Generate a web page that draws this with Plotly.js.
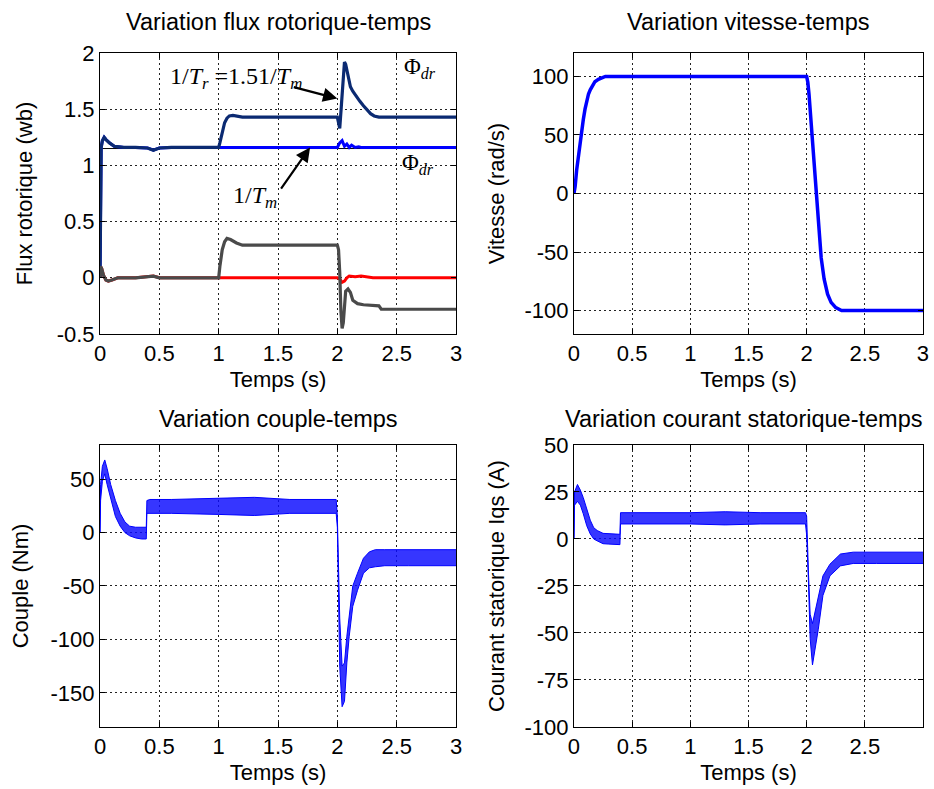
<!DOCTYPE html>
<html>
<head>
<meta charset="utf-8">
<script src="https://cdn.plot.ly/plotly-3.0.1.min.js"></script>
<style>html,body{margin:0;padding:0;background:#fff;}#chart{width:934px;height:789px;}</style>
</head>
<body>
<div id="chart"></div>
<script>
// ---------- Data ----------
// Top-left: rotor flux (wb)
const tFluxRef = [0, 3];
const fluxRef = [1.15, 1.15];                       // thin black 1/Tm reference
const tPhiDrTm = [0, 0.005, 0.01, 0.02, 0.035, 0.05, 0.08, 0.12, 0.2, 0.3, 0.4, 0.45, 0.5, 0.6, 2.0, 2.02, 2.04, 2.06, 2.08, 2.1, 2.12, 2.15, 2.18, 2.2, 3.0];
const phiDrTm = [0, 1.05, 1.16, 1.22, 1.25, 1.23, 1.2, 1.17, 1.16, 1.16, 1.155, 1.135, 1.155, 1.16, 1.16, 1.2, 1.22, 1.17, 1.19, 1.16, 1.18, 1.16, 1.165, 1.16, 1.16];
const tPhiQrTm = [0, 0.005, 0.015, 0.03, 0.05, 0.07, 0.1, 0.15, 0.3, 0.42, 0.45, 0.5, 2.0, 2.02, 2.04, 2.06, 2.08, 2.1, 2.15, 2.2, 2.25, 2.3, 3.0];
const phiQrTm = [0, 0.1, 0.08, 0.02, -0.02, -0.03, -0.02, 0, 0, 0.01, 0.015, 0, 0, -0.01, -0.04, -0.03, 0.0, 0.015, 0.01, 0.015, 0.01, 0, 0];
const tPhiDr15 = [0, 0.005, 0.01, 0.02, 0.035, 0.05, 0.08, 0.12, 0.2, 0.3, 0.4, 0.45, 0.5, 0.6, 1.0, 1.01, 1.03, 1.05, 1.07, 1.09, 1.12, 1.2, 1.5, 1.75, 1.8, 1.9, 2.0, 2.01, 2.02, 2.035, 2.05, 2.06, 2.07, 2.08, 2.09, 2.11, 2.13, 2.16, 2.19, 2.22, 2.25, 2.28, 2.31, 2.35, 2.6, 3.0];
const phiDr15 = [0, 1.05, 1.16, 1.22, 1.25, 1.23, 1.2, 1.17, 1.16, 1.16, 1.155, 1.135, 1.155, 1.16, 1.16, 1.2, 1.3, 1.38, 1.42, 1.44, 1.445, 1.43, 1.43, 1.425, 1.43, 1.43, 1.43, 1.38, 1.33, 1.55, 1.85, 1.92, 1.9, 1.85, 1.78, 1.70, 1.66, 1.61, 1.57, 1.53, 1.49, 1.46, 1.44, 1.43, 1.43, 1.43];
const tPhiQr15 = [0, 0.005, 0.015, 0.03, 0.05, 0.07, 0.1, 0.15, 0.3, 0.42, 0.45, 0.5, 1.0, 1.01, 1.03, 1.05, 1.07, 1.1, 1.15, 1.2, 1.5, 1.8, 2.0, 2.01, 2.02, 2.03, 2.04, 2.05, 2.06, 2.07, 2.09, 2.11, 2.13, 2.17, 2.22, 2.3, 2.35, 2.37, 2.5, 3.0];
const phiQr15 = [0, 0.1, 0.08, 0.02, -0.02, -0.03, -0.02, 0, 0, 0.01, 0.015, 0, 0, 0.1, 0.25, 0.32, 0.35, 0.34, 0.31, 0.29, 0.29, 0.29, 0.29, 0.25, 0.05, -0.3, -0.45, -0.40, -0.2, -0.12, -0.1, -0.13, -0.2, -0.23, -0.24, -0.25, -0.25, -0.28, -0.28, -0.28];

// Top-right: speed (rad/s)
const tSpeed = [0, 0.01, 0.023, 0.035, 0.052, 0.065, 0.08, 0.095, 0.11, 0.125, 0.14, 0.16, 0.18, 0.21, 0.24, 0.27, 2.0, 2.01, 2.02, 2.035, 2.055, 2.075, 2.09, 2.105, 2.125, 2.15, 2.18, 2.21, 2.25, 2.3, 3.0];
const speed = [0, 6, 20, 30, 41, 52, 63, 72, 80, 85, 88.5, 92.5, 95.5, 97.5, 99, 100, 100, 95, 85, 64, 40, 15, -10, -33, -55, -73, -86, -93, -97.5, -100, -100];

// Bottom-left: torque (Nm), upper / lower envelope of the ripple band
const tTorque = [0, 0.005, 0.02, 0.04, 0.06, 0.09, 0.13, 0.17, 0.21, 0.25, 0.3, 0.35, 0.39, 0.395, 0.42, 0.6, 1.0, 1.3, 1.6, 1.99, 2.0, 2.01, 2.02, 2.04, 2.06, 2.08, 2.1, 2.13, 2.17, 2.22, 2.27, 2.32, 2.4, 2.6, 2.8, 3.0];
const torqueHigh = [0, 45, 62, 68, 60, 45, 30, 18, 10, 6, 5, 5, 5, 30, 31, 31, 32, 33, 31, 31, 15, -30, -80, -125, -122, -97, -79, -50, -38, -24, -18, -16, -16, -16, -16, -16];
const torqueLow = [0, 30, 48, 55, 45, 32, 15, 6, 0, -3, -5, -6, -6, 18, 18, 18, 17, 16, 18, 18, 5, -66, -125, -163, -158, -122, -97, -69, -54, -38, -33, -32, -31, -31, -31, -31];

// Bottom-right: stator current Iqs (A), upper / lower envelope
const tIqs = [0, 0.005, 0.03, 0.055, 0.08, 0.11, 0.14, 0.17, 0.2, 0.25, 0.3, 0.38, 0.395, 0.4, 0.7, 1.0, 1.3, 1.6, 1.99, 2.0, 2.015, 2.03, 2.05, 2.07, 2.1, 2.14, 2.2, 2.29, 2.4, 2.6, 2.8, 3.0];
const iqsHigh = [0, 25, 29, 26, 22, 16, 10, 6, 4.5, 3, 2.7, 2.5, 2.5, 14, 14, 14, 14.5, 14, 14, 12, -17, -40, -45, -39, -30, -19.6, -13.4, -8, -7, -7, -7, -7];
const iqsLow = [0, 18, 20, 18, 13.4, 7, 2.7, 0, -1, -2.5, -2.7, -3, -3, 8, 8, 8, 7.5, 8, 8, 2, -22, -53, -67, -60, -48, -30, -19.6, -14.3, -13, -13, -13, -13];

// Tick values and labels
const timeTicks = [0, 0.5, 1, 1.5, 2, 2.5, 3];
const timeTickText = ['0', '0.5', '1', '1.5', '2', '2.5', '3'];
const timeTicksBR = [0, 0.5, 1, 1.5, 2, 2.5];
const timeTickTextBR = ['0', '0.5', '1', '1.5', '2', '2.5'];
const fluxTicks = [-0.5, 0, 0.5, 1, 1.5, 2];
const fluxTickText = ['-0.5', '0', '0.5', '1', '1.5', '2'];
const speedTicks = [-100, -50, 0, 50, 100];
const speedTickText = ['-100', '-50', '0', '50', '100'];
const torqueTicks = [-150, -100, -50, 0, 50];
const torqueTickText = ['-150', '-100', '-50', '0', '50'];
const iqsTicks = [-100, -75, -50, -25, 0, 25, 50];
const iqsTickText = ['-100', '-75', '-50', '-25', '0', '25', '50'];

// ---------- Traces ----------
const NAVY = '#0b2a72', BLUE = '#0000ff', GRAY = '#4a4a4a', RED = '#ff0000';
const BAND = 'rgba(10,10,255,0.82)';
const traces = [
  {x: tFluxRef, y: fluxRef, xaxis: 'x', yaxis: 'y', mode: 'lines', line: {color: '#000', width: 1}},
  {x: tPhiDrTm, y: phiDrTm, xaxis: 'x', yaxis: 'y', mode: 'lines', line: {color: BLUE, width: 3}},
  {x: tPhiQrTm, y: phiQrTm, xaxis: 'x', yaxis: 'y', mode: 'lines', line: {color: RED, width: 3}},
  {x: tPhiDr15, y: phiDr15, xaxis: 'x', yaxis: 'y', mode: 'lines', line: {color: NAVY, width: 3.2}},
  {x: tPhiQr15, y: phiQr15, xaxis: 'x', yaxis: 'y', mode: 'lines', line: {color: GRAY, width: 3.2}},

  {x: tSpeed, y: speed, xaxis: 'x2', yaxis: 'y2', mode: 'lines', line: {color: BLUE, width: 3.5}},

  {x: tTorque, y: torqueLow, xaxis: 'x3', yaxis: 'y3', mode: 'lines', line: {color: BLUE, width: 1}},
  {x: tTorque, y: torqueHigh, xaxis: 'x3', yaxis: 'y3', mode: 'lines', line: {color: BLUE, width: 1}, fill: 'tonexty', fillcolor: BAND},

  {x: tIqs, y: iqsLow, xaxis: 'x4', yaxis: 'y4', mode: 'lines', line: {color: BLUE, width: 1}},
  {x: tIqs, y: iqsHigh, xaxis: 'x4', yaxis: 'y4', mode: 'lines', line: {color: BLUE, width: 1}, fill: 'tonexty', fillcolor: BAND}
];

// ---------- Layout ----------
const FONT = 'Liberation Sans, Arial, Helvetica, sans-serif';
const SERIF = 'Liberation Serif, Times New Roman, serif';
function axisBase(extra) {
  return Object.assign({
    showline: true, mirror: 'ticks', linecolor: '#000', linewidth: 1,
    ticks: 'inside', ticklen: 5, tickcolor: '#000', tickwidth: 1,
    showgrid: true, gridcolor: '#222', griddash: '2px,3px', gridwidth: 1,
    zeroline: false, tickmode: 'array', tickfont: {family: FONT, size: 22, color: '#000'}
  }, extra);
}
function xTitle(std) { return {text: 'Temps (s)', font: {family: FONT, size: 22, color: '#000'}, standoff: std}; }
function yTitle(t, std) { return {text: t, font: {family: FONT, size: 22, color: '#000'}, standoff: std}; }

const LX = [0, 0.4326], RX = [0.5759, 1], TY = [0.5831, 1], BY = [0, 0.4184];
const TITLE_FONT = {family: FONT, size: 23.5, color: '#000'};

const layout = {
  width: 934, height: 789,
  margin: {l: 100, r: 11, t: 53, b: 62},
  paper_bgcolor: '#fff', plot_bgcolor: '#fff',
  showlegend: false,
  font: {family: FONT, size: 22, color: '#000'},
  xaxis: axisBase({domain: LX, anchor: 'y', range: [0, 3], tickvals: timeTicks, ticktext: timeTickText, title: xTitle(6)}),
  yaxis: axisBase({domain: TY, anchor: 'x', range: [-0.5, 2], tickvals: fluxTicks, ticktext: fluxTickText, title: yTitle('Flux rotorique (wb)', 17)}),
  xaxis2: axisBase({domain: RX, anchor: 'y2', range: [0, 3], tickvals: timeTicks, ticktext: timeTickText, title: xTitle(6)}),
  yaxis2: axisBase({domain: TY, anchor: 'x2', range: [-120, 120], tickvals: speedTicks, ticktext: speedTickText, title: yTitle('Vitesse (rad/s)', 13)}),
  xaxis3: axisBase({domain: LX, anchor: 'y3', range: [0, 3], tickvals: timeTicks, ticktext: timeTickText, title: xTitle(6)}),
  yaxis3: axisBase({domain: BY, anchor: 'x3', range: [-182, 82], tickvals: torqueTicks, ticktext: torqueTickText, title: yTitle('Couple (Nm)', 15)}),
  xaxis4: axisBase({domain: RX, anchor: 'y4', range: [0, 3], tickvals: timeTicksBR, ticktext: timeTickTextBR, title: xTitle(6)}),
  yaxis4: axisBase({domain: BY, anchor: 'x4', range: [-100, 50], tickvals: iqsTicks, ticktext: iqsTickText, title: yTitle('Courant statorique Iqs (A)', 13)}),
  annotations: [
    {text: 'Variation flux rotorique-temps', xref: 'paper', yref: 'paper', x: 0.2163, y: 1.046, xanchor: 'center', yanchor: 'middle', showarrow: false, font: TITLE_FONT},
    {text: 'Variation vitesse-temps', xref: 'paper', yref: 'paper', x: 0.788, y: 1.046, xanchor: 'center', yanchor: 'middle', showarrow: false, font: TITLE_FONT},
    {text: 'Variation couple-temps', xref: 'paper', yref: 'paper', x: 0.2163, y: 0.457, xanchor: 'center', yanchor: 'middle', showarrow: false, font: TITLE_FONT},
    {text: 'Variation courant statorique-temps', xref: 'paper', yref: 'paper', x: 0.7813, y: 0.457, xanchor: 'center', yanchor: 'middle', showarrow: false, font: TITLE_FONT},

    {text: '1/<i>T</i><sub><i>r</i></sub> =1.51/<i>T</i><sub><i>m</i></sub>', xref: 'x', yref: 'y', x: 1.15, y: 1.775, xanchor: 'center', yanchor: 'middle', showarrow: false, font: {family: SERIF, size: 24, color: '#000'}},
    {text: 'Φ<sub><i>dr</i></sub>', xref: 'x', yref: 'y', x: 2.70, y: 1.864, xanchor: 'center', yanchor: 'middle', showarrow: false, font: {family: SERIF, size: 23, color: '#000'}},
    {text: 'Φ<sub><i>dr</i></sub>', xref: 'x', yref: 'y', x: 2.68, y: 1.01, xanchor: 'center', yanchor: 'middle', showarrow: false, font: {family: SERIF, size: 23, color: '#000'}},
    {text: '1/<i>T</i><sub><i>m</i></sub>', xref: 'x', yref: 'y', x: 1.306, y: 0.716, xanchor: 'center', yanchor: 'middle', showarrow: false, font: {family: SERIF, size: 24, color: '#000'}},

    {text: '', xref: 'x', yref: 'y', x: 2.0, y: 1.595, axref: 'x', ayref: 'y', ax: 1.62, ay: 1.70, showarrow: true, arrowhead: 2, arrowsize: 1.3, arrowwidth: 2.2, arrowcolor: '#000'},
    {text: '', xref: 'x', yref: 'y', x: 1.77, y: 1.16, axref: 'x', ayref: 'y', ax: 1.517, ay: 0.78, showarrow: true, arrowhead: 2, arrowsize: 1.3, arrowwidth: 2.2, arrowcolor: '#000'}
  ]
};

Plotly.newPlot('chart', traces, layout, {staticPlot: true, displayModeBar: false});
</script>
</body>
</html>
